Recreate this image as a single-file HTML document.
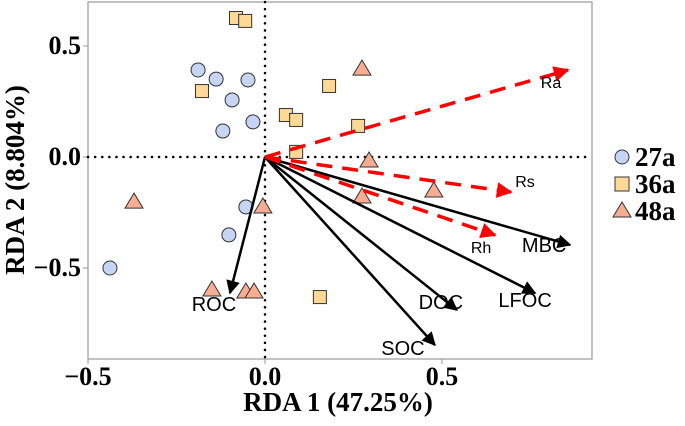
<!DOCTYPE html>
<html><head><meta charset="utf-8"><style>
body{margin:0;background:#fff;}
svg text{font-family:"Liberation Serif",serif;}
</style></head><body>
<svg id="chart" width="685" height="421" xmlns="http://www.w3.org/2000/svg">
<defs>
<marker id="ah" viewBox="0 0 10 10" refX="9" refY="5" markerWidth="6" markerHeight="5.5" orient="auto"><path d="M0,0 L10,5 L0,10 z" fill="#000"/></marker>
<marker id="ahr" viewBox="0 0 10 10" refX="9" refY="5" markerWidth="5" markerHeight="4.5" orient="auto"><path d="M0,0 L10,5 L0,10 z" fill="#f00"/></marker>
</defs>
<rect x="88" y="2" width="504" height="357" fill="#fff" stroke="#999" stroke-width="1.2"/>
<g id="g"></g>
<text x="338" y="411" text-anchor="middle" font-size="27" font-weight="bold">RDA 1 (47.25%)</text>
<text transform="translate(24,180) rotate(-90)" text-anchor="middle" font-size="27" font-weight="bold">RDA 2 (8.804%)</text>
<g>
<circle cx="622" cy="157" r="7" fill="#c6d5f3" stroke="#333"/>
<text x="635" y="166" font-size="27" font-weight="bold">27a</text>
<rect x="615" y="177" width="14" height="14" fill="#fdd995" stroke="#333"/>
<text x="635" y="193" font-size="27" font-weight="bold">36a</text>
<polygon points="622,202 631,217 613,217" fill="#f8ad93" stroke="#333"/>
<text x="635" y="220" font-size="27" font-weight="bold">48a</text>
</g>
</svg>
<script>
const xTicks=[-0.5,0.0,0.5];
const yTicks=[0.5,0.0,-0.5];
const xTickLabels=["\u22120.5","0.0","0.5"];
const yTickLabels=["0.5","0.0","\u22120.5"];
const x27=[-0.189,-0.138,-0.048,-0.093,-0.119,-0.034,-0.054,-0.102,-0.438];
const y27=[0.392,0.351,0.347,0.257,0.117,0.158,-0.225,-0.351,-0.500];
const x36=[-0.082,-0.056,-0.178,0.059,0.088,0.181,0.263,0.088,0.155];
const y36=[0.626,0.613,0.297,0.189,0.167,0.320,0.140,0.023,-0.631];
const x48=[-0.370,-0.006,-0.150,-0.054,-0.031,0.274,0.294,0.477,0.274];
const y48=[-0.203,-0.225,-0.599,-0.608,-0.608,0.396,-0.018,-0.153,-0.180];
const envNames=["ROC","MBC","LFOC","DOC","SOC"];
const envX=[-0.099,0.862,0.763,0.542,0.480];
const envY=[-0.613,-0.396,-0.613,-0.689,-0.847];
const respNames=["Ra","Rs","Rh"];
const respX=[0.856,0.695,0.650];
const respY=[0.392,-0.158,-0.352];

const sx=v=>265+v*354, sy=v=>157-v*222;
const NS="http://www.w3.org/2000/svg";
const svg=document.getElementById('chart'), g=document.getElementById('g');
function mk(t,a,p){const e=document.createElementNS(NS,t);for(const k in a)e.setAttribute(k,a[k]);(p||g).appendChild(e);return e;}
xTicks.forEach((t,i)=>{
 const l=mk('line',{x1:sx(t),x2:sx(t),y1:359,y2:364,stroke:'#999'});
 
 
 const tx=mk('text',{x:sx(t),y:385,'text-anchor':'middle','font-size':26,'font-weight':'bold'});tx.textContent=xTickLabels[i];
 
 
});
yTicks.forEach((t,i)=>{
 const l=mk('line',{x1:83,x2:88,y1:sy(t),y2:sy(t),stroke:'#999'});
 
 
 const tx=mk('text',{x:81,y:sy(t)+8,'text-anchor':'end','font-size':26,'font-weight':'bold'});tx.textContent=yTickLabels[i];
 
 
});
const h=mk('line',{x1:88,x2:592,y1:sy(0),y2:sy(0),stroke:'#000','stroke-width':2.5,'stroke-dasharray':'0.1 7','stroke-linecap':'round'});


const v=mk('line',{x1:sx(0),x2:sx(0),y1:2,y2:359,stroke:'#000','stroke-width':2.5,'stroke-dasharray':'0.1 7','stroke-linecap':'round'});


x27.forEach((x,i)=>{const c=mk('circle',{cx:sx(x),cy:sy(y27[i]),r:7,fill:'#c6d5f3',stroke:'#333'});
 
 });
x36.forEach((x,i)=>{const c=mk('rect',{x:sx(x)-6.5,y:sy(y36[i])-6.5,width:13,height:13,fill:'#fdd995',stroke:'#333'});
 
 });
x48.forEach((x,i)=>{const px=sx(x),py=sy(y48[i]);const c=mk('polygon',{points:`${px},${py-9} ${px+9},${py+6} ${px-9},${py+6}`,fill:'#f8ad93',stroke:'#333'});
 
 });
const envLab=[[-16,18],[-26,7],[-10,14],[-16,-1],[-32,10]];
envNames.forEach((n,i)=>{
 const l=mk('line',{x1:sx(0),y1:sy(0),x2:sx(envX[i]),y2:sy(envY[i]),stroke:'#000','stroke-width':2.5,'marker-end':'url(#ah)'});
 
 
 const t=mk('text',{x:sx(envX[i])+envLab[i][0],y:sy(envY[i])+envLab[i][1],'font-size':20,'text-anchor':'middle',style:'font-family:"Liberation Sans",sans-serif'});t.textContent=n;
 
 
});
const respLab=[[-17,18],[14,-5],[-14,18]];
respNames.forEach((n,i)=>{
 const l=mk('line',{x1:sx(0),y1:sy(0),x2:sx(respX[i]),y2:sy(respY[i]),stroke:'#f00','stroke-width':3.5,'stroke-dasharray':'16 10','marker-end':'url(#ahr)'});
 
 
 const t=mk('text',{x:sx(respX[i])+respLab[i][0],y:sy(respY[i])+respLab[i][1],'font-size':16,'text-anchor':'middle',style:'font-family:"Liberation Sans",sans-serif'});t.textContent=n;
 
 
});
</script>
</body></html>
